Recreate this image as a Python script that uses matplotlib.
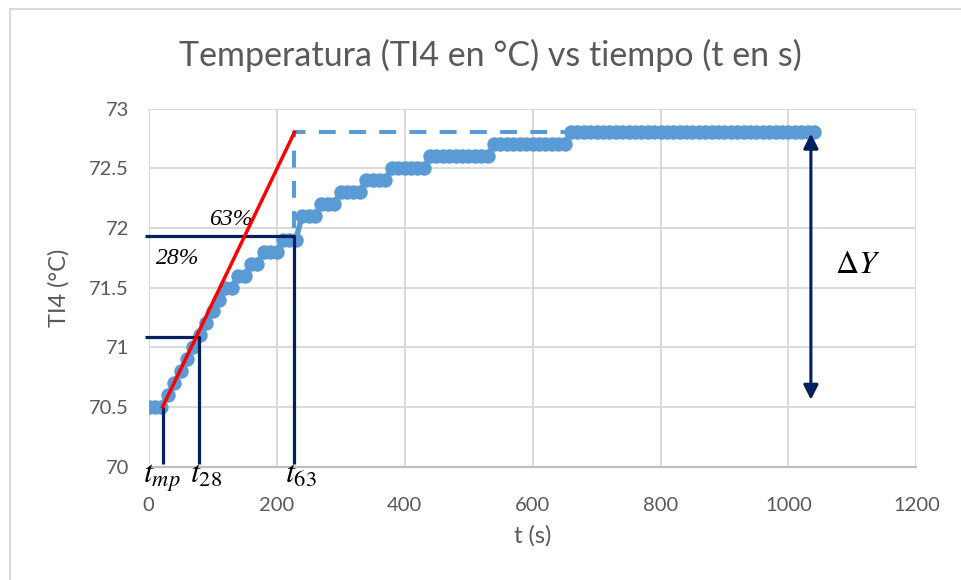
import matplotlib
matplotlib.use("Agg")
import matplotlib.pyplot as plt
from matplotlib.lines import Line2D

# Measured step response: time (s) and temperature TI4 (°C)
t_s = [0, 10, 20, 30, 40, 50, 60, 70, 80, 90, 100, 110, 120, 130, 140, 150,
       160, 170, 180, 190, 200, 210, 220, 230, 240, 250, 260, 270, 280, 290,
       300, 310, 320, 330, 340, 350, 360, 370, 380, 390, 400, 410, 420, 430,
       440, 450, 460, 470, 480, 490, 500, 510, 520, 530, 540, 550, 560, 570,
       580, 590, 600, 610, 620, 630, 640, 650, 660, 670, 680, 690, 700, 710,
       720, 730, 740, 750, 760, 770, 780, 790, 800, 810, 820, 830, 840, 850,
       860, 870, 880, 890, 900, 910, 920, 930, 940, 950, 960, 970, 980, 990,
       1000, 1010, 1020, 1030, 1040]
ti4 = [70.5, 70.5, 70.5, 70.6, 70.7, 70.8, 70.9, 71.0, 71.1, 71.2, 71.3, 71.4,
       71.5, 71.5, 71.6, 71.6, 71.7, 71.7, 71.8, 71.8, 71.8, 71.9, 71.9, 71.9,
       72.1, 72.1, 72.1, 72.2, 72.2, 72.2, 72.3, 72.3, 72.3, 72.3, 72.4, 72.4,
       72.4, 72.4, 72.5, 72.5, 72.5, 72.5, 72.5, 72.5, 72.6, 72.6, 72.6, 72.6,
       72.6, 72.6, 72.6, 72.6, 72.6, 72.6, 72.7, 72.7, 72.7, 72.7, 72.7, 72.7,
       72.7, 72.7, 72.7, 72.7, 72.7, 72.7, 72.8, 72.8, 72.8, 72.8, 72.8, 72.8,
       72.8, 72.8, 72.8, 72.8, 72.8, 72.8, 72.8, 72.8, 72.8, 72.8, 72.8, 72.8,
       72.8, 72.8, 72.8, 72.8, 72.8, 72.8, 72.8, 72.8, 72.8, 72.8, 72.8, 72.8,
       72.8, 72.8, 72.8, 72.8, 72.8, 72.8, 72.8, 72.8, 72.8]

# Characteristic times (s) and levels (°C) of the response
t_mp = 22
t_28 = 79
t_63 = 228
y_start = 70.5
y_end = 72.8
y_28 = 71.09
y_63 = 71.93
t_final = 1035
dy_bottom = 70.56

x_ticks = [0, 200, 400, 600, 800, 1000, 1200]
y_ticks = [70, 70.5, 71, 71.5, 72, 72.5, 73]

BLUE = "#5B9BD5"
NAVY = "#002060"
GRID = "#D9D9D9"
TXT = "#595959"
FONT = "Lato"

plt.rcParams["mathtext.fontset"] = "stix"

fig = plt.figure(figsize=(9.61, 5.80), dpi=100)
ax = fig.add_axes([148.5 / 961, 113.3 / 580, 768 / 961, 358.2 / 580])

ax.set_xlim(x_ticks[0], x_ticks[-1])
ax.set_ylim(y_ticks[0], y_ticks[-1])
ax.set_xticks(x_ticks)
ax.set_yticks(y_ticks)
ax.set_xticklabels([str(v) for v in x_ticks])
ax.set_yticklabels([f"{v:g}" for v in y_ticks])
ax.tick_params(length=0, labelsize=14.5, labelcolor=TXT, pad=0)
for lab in ax.get_xticklabels() + ax.get_yticklabels():
    lab.set_fontfamily(FONT)
ax.tick_params(axis="x", pad=22)
ax.tick_params(axis="y", pad=14)
ax.grid(True, color=GRID, linewidth=1.4)
ax.set_axisbelow(True)
for side in ["left", "top", "right"]:
    ax.spines[side].set_visible(False)
ax.spines["bottom"].set_color("#BFBFBF")
ax.spines["bottom"].set_linewidth(1.6)

# Data series
ax.plot(t_s, ti4, color=BLUE, linewidth=4, marker="o", markersize=10.4,
        markerfacecolor=BLUE, markeredgewidth=0, zorder=3)

# Dashed guide to the final value
ax.plot([t_63, t_63, t_final - 380], [72.0, y_end, y_end], color=BLUE,
        linewidth=2.9, dashes=(4.2, 3.3), zorder=2, solid_capstyle="butt")

# Tangent line
ax.plot([t_mp, t_63], [y_start, y_end], color="#FF0000", linewidth=2.5, zorder=5)

# Construction lines for 28% and 63%
kw = dict(color=NAVY, linewidth=2.3, zorder=4, clip_on=False, solid_capstyle="butt")
ax.plot([-5, t_28, t_28], [y_28, y_28, 70.02], **kw)
ax.plot([-5, t_63, t_63], [y_63, y_63, 70.02], **kw)
ax.plot([t_mp, t_mp], [y_start, 70.02], **kw)

# Delta Y double arrow
ax.annotate("", xy=(t_final, y_end - 0.01), xytext=(t_final, dy_bottom),
            arrowprops=dict(arrowstyle="<|-|>", color=NAVY, lw=2.2,
                            mutation_scale=22, shrinkA=0, shrinkB=0),
            zorder=6)

serif = dict(family="Liberation Serif", style="italic", color="black")
ax.text(129, 72.07, "63%", fontsize=17, ha="center", va="center", **serif)
ax.text(46, 71.74, "28%", fontsize=17, ha="center", va="center", **serif)

for x0, s in [(-8, r"$t_{mp}$"), (65, r"$t_{28}$"), (213, r"$t_{63}$")]:
    ax.text(x0, 69.864, s, fontsize=23, ha="left", va="baseline",
            color="black", clip_on=False)
ax.text(1073, 71.69, r"$\Delta Y$", fontsize=23, ha="left", va="center",
        color="black")

ax.set_xlabel("t (s)", fontsize=17, color=TXT, family=FONT, labelpad=8)
ax.set_ylabel("TI4 (°C)", fontsize=17, color=TXT, family=FONT, labelpad=14)
fig.text(0.51, 0.905, "Temperatura (TI4 en °C) vs tiempo (t en s)",
         fontsize=24.5, color=TXT, family=FONT, ha="center", va="center")

# Chart area frame
fig.add_artist(Line2D([10 / 961, 10 / 961], [0, 1 - 9 / 580], color=GRID,
                      linewidth=1.5, transform=fig.transFigure))
fig.add_artist(Line2D([10 / 961, 1], [1 - 9 / 580, 1 - 9 / 580], color=GRID,
                      linewidth=1.5, transform=fig.transFigure))

fig.savefig("out.png", dpi=100)
